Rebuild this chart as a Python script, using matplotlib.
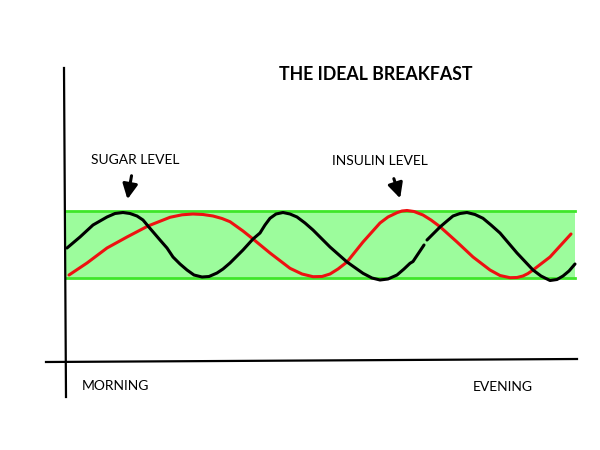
import numpy as np
import matplotlib
matplotlib.use("Agg")
import matplotlib.pyplot as plt

# values, in pixel units (x to the right, y downwards)
sugar_x1 = [67, 80, 93, 107, 115, 123, 130, 137, 143, 148, 154, 160, 167, 173,
            180, 187, 194, 202, 209, 217, 223, 230, 243, 253, 260, 265, 270, 276,
            283, 290, 297, 305, 313, 330, 347, 363, 372, 380, 388, 397, 404, 410,
            413, 424]
sugar_y1 = [248, 237, 225, 217, 213.5, 212.5, 213.5, 216, 220, 226, 233, 240, 248, 257,
            264, 270, 275, 277, 276.5, 273, 269, 263, 250, 239, 233, 225, 218.3, 214,
            212.5, 214, 217, 223, 230, 247, 262, 273.3, 278, 280, 279, 275, 269, 263.3,
            261.5, 245]
sugar_x2 = [427, 440, 447, 453, 460, 467, 475, 483, 491, 500, 517, 533, 541, 550,
            557, 563, 569, 575]
sugar_y2 = [240, 227, 221, 216, 213.5, 212.5, 214.5, 218.3, 225, 233, 253, 270, 276, 280.5,
            279.5, 276, 271, 264]

insulin_x = [69, 87, 107, 127, 148, 170, 182, 193, 203, 213, 222, 230, 243, 253,
             270, 290, 302, 313, 322, 330, 338, 347, 363, 380, 388, 397, 402, 407,
             414, 423, 431, 440, 457, 473, 490, 500, 510, 517, 523, 528, 533, 550,
             571]
insulin_y = [275, 263, 248, 237, 226, 217.3, 214.8, 214, 214.5, 216, 218.5, 221.7, 231, 239,
             253, 268.3, 274, 276.7, 276.5, 274, 269, 262, 242, 223, 217, 212.7, 211, 210.5,
             211.5, 215, 220, 226.7, 242, 257, 270, 275.5, 277.7, 277.5, 276, 273.5, 270, 257,
             234]

band_low, band_high = 211, 278
band_x = [66, 575]

fig = plt.figure(figsize=(6, 4.5), dpi=100)
ax = fig.add_axes([0, 0, 1, 1])
ax.set_xlim(0, 600)
ax.set_ylim(450, 0)
ax.axis("off")

# green "ideal" band
ax.fill_between(band_x, band_low, band_high, color="#9cfc9c", lw=0, zorder=1)
ax.plot(band_x, [band_low, band_low], color="#3fe62a", lw=2, zorder=2)
ax.plot(band_x, [band_high, band_high], color="#3fe62a", lw=2, zorder=2)

# hand drawn axes
ax.plot([64, 66], [68, 397], color="black", lw=1.6, zorder=3)
ax.plot([46, 577], [362, 359], color="black", lw=1.6, zorder=3)

ax.plot(insulin_x, insulin_y, color="#ee1111", lw=2.2, zorder=4,
        solid_joinstyle="round", solid_capstyle="round")
ax.plot(sugar_x1, sugar_y1, color="black", lw=2.2, zorder=5,
        solid_joinstyle="round", solid_capstyle="round")
ax.plot(sugar_x2, sugar_y2, color="black", lw=2.2, zorder=5,
        solid_joinstyle="round", solid_capstyle="round")

font = ["Lato", "DejaVu Sans"]
ax.text(376, 75, "THE IDEAL BREAKFAST", fontsize=12.8, fontweight="bold",
        family=font, ha="center", va="center")
ax.text(135, 160, "SUGAR LEVEL", fontsize=10, family=font, ha="center", va="center")
ax.text(380, 161, "INSULIN LEVEL", fontsize=10, family=font, ha="center", va="center")
ax.text(82, 386, "MORNING", fontsize=10, family=font, ha="left", va="center")
ax.text(473, 387, "EVENING", fontsize=10, family=font, ha="left", va="center")

arrow = dict(arrowstyle="-|>,head_width=0.45,head_length=0.9", color="black", lw=2.2)
ax.annotate("", xy=(127, 202), xytext=(132, 173), arrowprops=arrow)
ax.annotate("", xy=(401, 201), xytext=(393, 176), arrowprops=arrow)

fig.savefig("out.png", dpi=100)
